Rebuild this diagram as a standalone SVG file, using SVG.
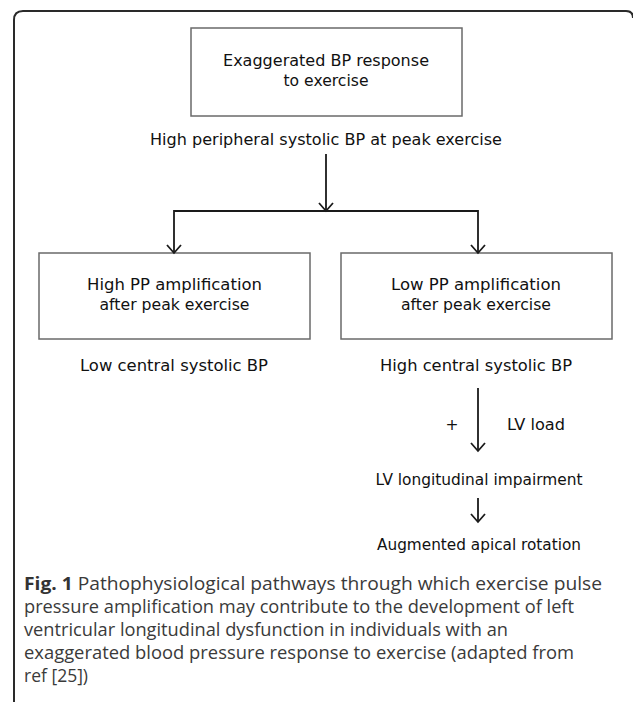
<svg xmlns="http://www.w3.org/2000/svg" width="633" height="702" viewBox="0 0 633 702">
<style>
  .box { fill: #ffffff; stroke: #6a6a6a; stroke-width: 1.5; }
  .t { font-family: "DejaVu Sans", "Liberation Sans", sans-serif; font-size: 15.5px; fill: #111111; text-anchor: middle; }
  .ts { font-family: "DejaVu Sans", "Liberation Sans", sans-serif; font-size: 15.5px; fill: #111111; }
  .conn { fill: none; stroke: #1a1a1a; stroke-width: 1.8; marker-end: url(#arr); }
  .cap { font-family: "Open Sans", "Liberation Sans", sans-serif; font-size: 17.5px; fill: #3a3a3a; }
  .capb { font-weight: bold; fill: #333333; }
</style>
<defs>
  <marker id="arr" markerUnits="userSpaceOnUse" viewBox="-10 -10 20 20" markerWidth="20" markerHeight="20" refX="0" refY="0" orient="auto" overflow="visible">
    <path d="M-8,-7 L0,0 L-8,7" fill="none" stroke="#1a1a1a" stroke-width="1.8"/>
  </marker>
</defs>
<rect width="633" height="702" fill="#ffffff"/>
<path id="frame" d="M14,702 L14,20 Q14,11 23,11 L626,11 Q633,11 633,18" fill="none" stroke="#2a2a2a" stroke-width="2"/>

<g id="n-exaggerated">
  <rect class="box" x="191" y="28" width="271" height="88"/>
  <text class="t" x="326" y="66" textLength="206" lengthAdjust="spacingAndGlyphs">Exaggerated BP response</text>
  <text class="t" x="326" y="86" textLength="85" lengthAdjust="spacingAndGlyphs">to exercise</text>
</g>
<g id="n-peripheral">
  <text class="t" x="326" y="145" textLength="352" lengthAdjust="spacingAndGlyphs">High peripheral systolic BP at peak exercise</text>
</g>
<g id="n-highpp">
  <rect class="box" x="39" y="253" width="271" height="86"/>
  <text class="t" x="174.5" y="290" textLength="175" lengthAdjust="spacingAndGlyphs">High PP amplification</text>
  <text class="t" x="174.5" y="310" textLength="150" lengthAdjust="spacingAndGlyphs">after peak exercise</text>
</g>
<g id="n-lowpp">
  <rect class="box" x="341" y="253" width="271" height="86"/>
  <text class="t" x="476" y="290" textLength="170" lengthAdjust="spacingAndGlyphs">Low PP amplification</text>
  <text class="t" x="476" y="310" textLength="150" lengthAdjust="spacingAndGlyphs">after peak exercise</text>
</g>
<g id="n-lowcentral">
  <text class="t" x="174" y="371" textLength="188" lengthAdjust="spacingAndGlyphs">Low central systolic BP</text>
</g>
<g id="n-highcentral">
  <text class="t" x="476" y="371" textLength="192" lengthAdjust="spacingAndGlyphs">High central systolic BP</text>
</g>
<g id="n-lvload">
  <text class="t" x="452" y="430">+</text>
  <text class="ts" x="507" y="430" textLength="58" lengthAdjust="spacingAndGlyphs">LV load</text>
</g>
<g id="n-lvlong">
  <text class="t" x="479" y="485" textLength="207" lengthAdjust="spacingAndGlyphs">LV longitudinal impairment</text>
</g>
<g id="n-apical">
  <text class="t" x="479" y="550" textLength="204" lengthAdjust="spacingAndGlyphs">Augmented apical rotation</text>
</g>

<g id="connectors">
  <path class="conn" d="M326,154 V211"/>
  <path class="conn" d="M326,211 H174 V253"/>
  <path class="conn" d="M326,211 H478 V253"/>
  <path class="conn" d="M478,388 V451"/>
  <path class="conn" d="M478,498 V522"/>
</g>

<g id="caption">
  <text class="cap" x="24" y="590" textLength="578" lengthAdjust="spacingAndGlyphs"><tspan class="capb">Fig. 1</tspan> Pathophysiological pathways through which exercise pulse</text>
  <text class="cap" x="24" y="613" textLength="550" lengthAdjust="spacingAndGlyphs">pressure amplification may contribute to the development of left</text>
  <text class="cap" x="24" y="636" textLength="484" lengthAdjust="spacingAndGlyphs">ventricular longitudinal dysfunction in individuals with an</text>
  <text class="cap" x="24" y="659" textLength="550" lengthAdjust="spacingAndGlyphs">exaggerated blood pressure response to exercise (adapted from</text>
  <text class="cap" x="24" y="682">ref [25])</text>
</g>
</svg>
